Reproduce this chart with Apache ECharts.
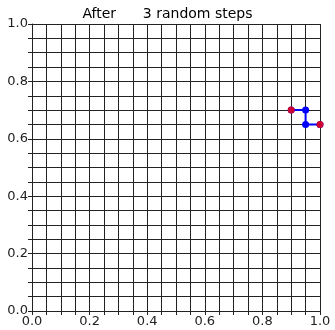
<!DOCTYPE html>
<html>
<head>
<meta charset="utf-8">
<script src="https://cdn.jsdelivr.net/npm/echarts@6/dist/echarts.min.js"></script>
<style>
  html, body { margin: 0; padding: 0; background: #fff; }
  #chart { width: 335px; height: 330px; }
</style>
</head>
<body>
<div id="chart"></div>
<script>
// path of the walk
var walkX = [0.9, 0.95, 0.95, 1.0];
var walkY = [0.7, 0.7, 0.65, 0.65];
var titleText = 'After      3 random steps';

var chart = echarts.init(document.getElementById('chart'));

var walk = [];
for (var i = 0; i < walkX.length; i++) {
    walk.push([walkX[i], walkY[i]]);
}
var ends = [walk[0], walk[walk.length - 1]];

// only every 0.2 gets a label
function lbl(v) {
    var k = Math.round(v * 100);
    if (k % 20 !== 0) return '';
    return (k / 100).toFixed(1);
}

var axisCommon = {
    type: 'value',
    min: 0,
    max: 1,
    interval: 0.05,
    axisLine: { show: true, lineStyle: { color: '#222', width: 1 } },
    axisTick: { show: true, inside: false, length: 4, lineStyle: { color: '#222' } },
    splitLine: { show: true, lineStyle: { color: '#222', width: 1 } },
    axisLabel: {
        formatter: lbl,
        color: '#222',
        fontFamily: 'DejaVu Sans',
        fontSize: 13,
        margin: 4,
        showMinLabel: true,
        showMaxLabel: true
    }
};

var option = {
    animation: false,
    title: {
        text: titleText,
        left: 'center',
        top: 2,
        textStyle: { fontFamily: 'DejaVu Sans', fontSize: 14, fontWeight: 'normal', color: '#000' }
    },
    grid: { left: 32, right: 15, top: 24, bottom: 19, containLabel: false },
    xAxis: axisCommon,
    yAxis: axisCommon,
    series: [
        {
            type: 'line',
            data: walk,
            lineStyle: { color: '#0000ff', width: 2 },
            itemStyle: { color: '#0000ff' },
            symbol: 'circle',
            symbolSize: 7,
            showSymbol: true,
            clip: false,
            z: 3
        },
        {
            type: 'scatter',
            data: ends,
            symbol: 'circle',
            symbolSize: 7,
            itemStyle: { color: '#ff0000' },
            clip: false,
            z: 4
        }
    ]
};
chart.setOption(option);
</script>
</body>
</html>
